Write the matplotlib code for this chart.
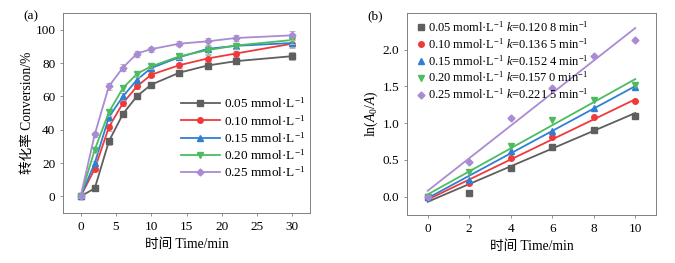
import numpy as np
import matplotlib
matplotlib.use("Agg")
import matplotlib.pyplot as plt

plt.rcParams['font.family'] = ['Liberation Serif', 'Noto Sans CJK SC']
plt.rcParams['mathtext.fontset'] = 'custom'
plt.rcParams['mathtext.rm'] = 'Liberation Serif'
plt.rcParams['mathtext.it'] = 'Liberation Serif:italic'

# (a) conversion vs time
t_a = [0, 2, 4, 6, 8, 10, 14, 18, 22, 30]
conv_005 = [0, 4.8, 33, 49.5, 60.2, 67, 74.2, 78.5, 81.1, 84.1]
conv_010 = [0, 16.5, 41.5, 56, 66, 73, 78.7, 82.7, 85.7, 91.6]
conv_015 = [0, 19.9, 47.5, 60, 70, 77, 83.5, 88.5, 90.3, 92]
conv_020 = [0, 28, 50.5, 65, 73.6, 78, 84, 87.7, 90.5, 93.8]
conv_025 = [0, 37.2, 66, 77.3, 85.7, 88.3, 91.6, 93, 95, 96.6]
err_a = [0.8, 1.5, 2, 2, 1.8, 1.5, 1.5, 2, 1.8, 2.5]

# (b) ln(A0/A) vs time
t_b = [0, 2, 4, 6, 8, 10]
ln_005 = [0, 0.05, 0.39, 0.68, 0.91, 1.10]
ln_010 = [0, 0.19, 0.53, 0.81, 1.09, 1.30]
ln_015 = [0, 0.22, 0.62, 0.90, 1.20, 1.49]
ln_020 = [0, 0.33, 0.69, 1.04, 1.32, 1.52]
ln_025 = [0, 0.47, 1.07, 1.48, 1.92, 2.13]
k_vals = [0.1208, 0.1365, 0.1524, 0.1570, 0.2215]
b_vals = [-0.07, -0.04, -0.02, 0.03, 0.08]

labels_a = ['0.05 mmol·L$^{-1}$', '0.10 mmol·L$^{-1}$', '0.15 mmol·L$^{-1}$',
            '0.20 mmol·L$^{-1}$', '0.25 mmol·L$^{-1}$']
labels_b = ['0.05 moml·L$^{-1}$ $k$=0.120 8 min$^{-1}$',
            '0.10 mmol·L$^{-1}$ $k$=0.136 5 min$^{-1}$',
            '0.15 mmol·L$^{-1}$ $k$=0.152 4 min$^{-1}$',
            '0.20 mmol·L$^{-1}$ $k$=0.157 0 min$^{-1}$',
            '0.25 mmol·L$^{-1}$ $k$=0.221 5 min$^{-1}$']

colors = ['#5f5f5f', '#f03a3a', '#2f7fd4', '#4dbb5f', '#a98bd3']
markers = ['s', 'o', '^', 'v', 'D']
msizes = [4, 4, 4.5, 4.5, 3.5]

fig = plt.figure(figsize=(6.75, 2.63), dpi=100)
ax1 = fig.add_axes([63 / 675, 50 / 263, 247 / 675, 200 / 263])
ax2 = fig.add_axes([407 / 675, 48 / 263, 249 / 675, 202 / 263])

for ys, c, m, ms, lab in zip([conv_005, conv_010, conv_015, conv_020, conv_025],
                              colors, markers, msizes, labels_a):
    ax1.errorbar(t_a, ys, yerr=err_a, fmt='none', ecolor='#b5b5b5',
                 elinewidth=0.7, capsize=2, capthick=0.7)
    ax1.plot(t_a, ys, color=c, marker=m, ms=ms, lw=1.3, label=lab)
ax1.set_xlim(-2.5, 32.5)
ax1.set_ylim(-10, 110)
ax1.set_xticks([0, 5, 10, 15, 20, 25, 30])
ax1.set_yticks([0, 20, 40, 60, 80, 100])
ax1.set_xlabel('时间 Time/min', fontsize=9.8)
ax1.set_ylabel('转化率 Conversion/%', fontsize=9.8, labelpad=1)
ax1.legend(loc='upper left', bbox_to_anchor=(0.455, 0.61), frameon=False, fontsize=9.5,
           handlelength=3.0, handletextpad=0.3, labelspacing=0.2, borderaxespad=0)
ax1.text(-0.16, 0.97, '(a)', transform=ax1.transAxes, fontsize=9.5)

xfit = np.array([0, 10])
for ys, k, b, c, m, ms, lab in zip([ln_005, ln_010, ln_015, ln_020, ln_025],
                                    k_vals, b_vals, colors, markers, msizes, labels_b):
    ax2.plot(t_b, ys, ls='none', color=c, marker=m, ms=ms, label=lab)
    ax2.plot(xfit, b + k * xfit, color=c, lw=1.3)
ax2.set_xlim(-1, 11)
ax2.set_ylim(-0.25, 2.5)
ax2.set_xticks([0, 2, 4, 6, 8, 10])
ax2.set_yticks([0.0, 0.5, 1.0, 1.5, 2.0])
ax2.set_xlabel('时间 Time/min', fontsize=9.8)
ax2.set_ylabel('ln($A_0$/$A$)', fontsize=9.8, labelpad=2)
ax2.legend(loc='upper left', bbox_to_anchor=(0.02, 0.99), frameon=False, fontsize=8.9,
           handlelength=0.6, handletextpad=0.3, labelspacing=0.18, borderaxespad=0)
ax2.text(-0.16, 0.97, '(b)', transform=ax2.transAxes, fontsize=9.5)

for ax in (ax1, ax2):
    for s in ax.spines.values():
        s.set_color('#808080')
        s.set_linewidth(0.7)
    ax.tick_params(direction='out', length=2.5, width=0.6, color='#808080',
                   labelsize=9.5, pad=3)

fig.savefig('out.png', dpi=100)
